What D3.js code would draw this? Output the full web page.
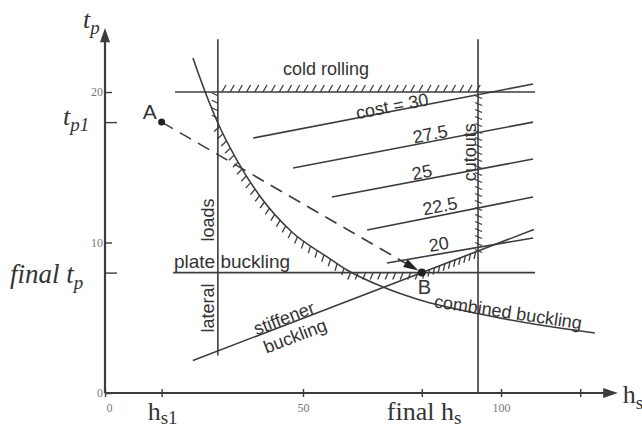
<!DOCTYPE html>
<html><head><meta charset="utf-8">
<script src="https://cdn.jsdelivr.net/npm/d3@7"></script>
<style>body{margin:0;background:#fff}svg{display:block}</style>
</head><body>
<script>
// ---------------- data ----------------
const xTickValues = [0, 50, 100];
const xTickLabels = ["0", "50", "100"];
const xExtraTicks = [14.3, 80, 120];          // h_s1, final h_s, unlabeled
const yTickValues = [0, 10, 20];
const yTickLabels = ["0", "10", "20"];
const yExtraTicks = [18, 8];                  // t_p1, final t_p

const coldRollingTp = 20;
const coldRollingHs = [17.7, 108.6];
const plateBucklingTp = 8;
const plateBucklingHs = [17.2, 108.6];
const lateralLoadsHs = 28.5;
const lateralLoadsTp = [2.5, 23.5];
const cutoutsHs = 94.2;
const cutoutsTp = [0, 23.5];
const stiffenerHs = [22.2, 108.3];
const stiffenerTp = [2.16, 10.86];

const combinedHs = [22.2, 25.3, 28.5, 33.3, 39.1, 47.2, 56.1, 61.1, 70.2, 79.5, 94.7, 109.8, 123.7];
const combinedTp = [22.26, 20.0, 17.94, 15.48, 13.09, 10.70, 9.04, 8.17, 7.04, 6.18, 5.25, 4.52, 3.99];

const costLabels  = ["cost = 30", "27.5", "25", "22.5", "20"];
const costStartHs = [37.4, 47.5, 57.3, 66.2, 71.2];
const costStartTp = [16.94, 14.95, 13.02, 10.83, 8.64];
const costEndHs   = [108.1, 108.1, 108.1, 108.1, 108.1];
const costEndTp   = [20.53, 18.0, 15.55, 13.02, 10.3];

const pointA = [14.3, 18];
const pointB = [80, 8];

// ---------------- setup ----------------
const W = 642, H = 427;
const ink = "#3c3c3c";
const svg = d3.select("body").append("svg").attr("width", W).attr("height", H);
const x = d3.scaleLinear().domain([0, 100]).range([105, 501]);
const y = d3.scaleLinear().domain([0, 20]).range([393, 92]);
const line = d3.line().x(d => x(d[0])).y(d => y(d[1]));
const g = svg.append("g");

function drawPath(pts, w) {
  return g.append("path").attr("d", line(pts)).attr("fill", "none")
    .attr("stroke", ink).attr("stroke-width", w || 1.6).node();
}
function lenAt(node, key, target) {
  const L = node.getTotalLength();
  const v0 = node.getPointAtLength(0)[key], v1 = node.getPointAtLength(L)[key];
  const inc = v1 > v0;
  let lo = 0, hi = L;
  for (let i = 0; i < 40; i++) {
    const m = (lo + hi) / 2, v = node.getPointAtLength(m)[key];
    if ((v < target) === inc) lo = m; else hi = m;
  }
  return (lo + hi) / 2;
}
function hatch(node, l0, l1, spacing, side, len, skew, offset) {
  offset = offset || 0;
  const L = node.getTotalLength();
  const segs = [];
  for (let l = l0 + spacing / 2; l <= l1; l += spacing) {
    const a = node.getPointAtLength(Math.max(0, l - 0.6)), b = node.getPointAtLength(Math.min(L, l + 0.6));
    const p = node.getPointAtLength(l);
    let tx = b.x - a.x, ty = b.y - a.y; const n = Math.hypot(tx, ty); tx /= n; ty /= n;
    const nx = -ty * side, ny = tx * side;
    const sx = p.x + nx * offset, sy = p.y + ny * offset;
    segs.push([sx, sy, sx + nx * len + tx * skew, sy + ny * len + ty * skew]);
  }
  g.append("g").selectAll("line").data(segs).join("line")
    .attr("x1", d => d[0]).attr("y1", d => d[1]).attr("x2", d => d[2]).attr("y2", d => d[3])
    .attr("stroke", ink).attr("stroke-width", 1.3);
}

// ---------------- axes ----------------
g.append("line").attr("x1", x(0)).attr("x2", x(127)).attr("y1", y(0)).attr("y2", y(0))
  .attr("stroke", ink).attr("stroke-width", 2.2);
g.append("path").attr("d", `M${x(129.5)},${y(0)}L${x(125.8)},${y(0)-5}L${x(125.8)},${y(0)+5}Z`).attr("fill", ink);
g.append("line").attr("x1", x(0)).attr("x2", x(0)).attr("y1", y(0)).attr("y2", y(23.5))
  .attr("stroke", ink).attr("stroke-width", 2.2);
g.append("path").attr("d", `M${x(0)},${y(24.25)}L${x(0)-5},${y(23.3)}L${x(0)+5},${y(23.3)}Z`).attr("fill", ink);

const xAxis = d3.axisBottom(x).tickValues(xTickValues.concat(xExtraTicks)).tickSize(4).tickPadding(6)
  .tickFormat(d => { const i = xTickValues.indexOf(d); return i >= 0 ? xTickLabels[i] : ""; });
const xa = svg.append("g").attr("transform", `translate(0,${y(0)})`).call(xAxis);
xa.select(".domain").remove();
xa.selectAll(".tick line").attr("y1", -4).attr("stroke", ink).attr("stroke-width", 1.4);
xa.selectAll(".tick text").attr("font-family", "Liberation Serif").attr("font-size", 12).attr("fill", "#777")
  .attr("dx", d => d === 0 ? 4 : 0);

const yAxis = d3.axisLeft(y).tickValues(yTickValues.concat(yExtraTicks)).tickSizeInner(-7).tickSizeOuter(0).tickPadding(2)
  .tickFormat(d => { const i = yTickValues.indexOf(d); return i >= 0 ? yTickLabels[i] : ""; });
const ya = svg.append("g").attr("transform", `translate(${x(0)},0)`).call(yAxis);
ya.select(".domain").remove();
ya.selectAll(".tick line").attr("x2", d => yExtraTicks.includes(d) ? 12 : 7).attr("stroke", ink).attr("stroke-width", 1.4);
ya.selectAll(".tick text").attr("font-family", "Liberation Serif").attr("font-size", 12).attr("fill", "#777");

// ---------------- constraint lines ----------------
const coldNode = drawPath([[coldRollingHs[0], coldRollingTp], [coldRollingHs[1], coldRollingTp]]);
const plateNode = drawPath([[plateBucklingHs[0], plateBucklingTp], [plateBucklingHs[1], plateBucklingTp]]);
const latNode = drawPath([[lateralLoadsHs, lateralLoadsTp[1]], [lateralLoadsHs, lateralLoadsTp[0]]]);
const cutNode = drawPath([[cutoutsHs, cutoutsTp[1]], [cutoutsHs, cutoutsTp[0]]]);
const stiffNode = drawPath([[stiffenerHs[0], stiffenerTp[0]], [stiffenerHs[1], stiffenerTp[1]]]);
const combPts = combinedHs.map((h, i) => [h, combinedTp[i]]);
const combNode = g.append("path").attr("d", d3.line().x(d => x(d[0])).y(d => y(d[1])).curve(d3.curveMonotoneX)(combPts))
  .attr("fill", "none").attr("stroke", ink).attr("stroke-width", 1.6).node();

costLabels.forEach((c, i) => drawPath([[costStartHs[i], costStartTp[i]], [costEndHs[i], costEndTp[i]]]));

// ---------------- hatching ----------------
hatch(coldNode, lenAt(coldNode, "x", x(lateralLoadsHs)), lenAt(coldNode, "x", x(cutoutsHs) + 5), 8.2, -1, 7, 4);
hatch(latNode, y(coldRollingTp) - y(lateralLoadsTp[1]), y(combinedTp[2]) - y(lateralLoadsTp[1]), 7.5, 1, 6, -3);
hatch(combNode, lenAt(combNode, "x", x(lateralLoadsHs)), lenAt(combNode, "x", x(61.1)), 8, 1, 7, 2);
hatch(plateNode, lenAt(plateNode, "x", x(61.1)), lenAt(plateNode, "x", x(pointB[0])), 7.5, 1, 7, -3);
hatch(stiffNode, lenAt(stiffNode, "x", x(pointB[0])), lenAt(stiffNode, "x", x(cutoutsHs)), 5.5, 1, 6, -4);
hatch(cutNode, y(coldRollingTp) - y(cutoutsTp[1]), y(9.4) - y(cutoutsTp[1]), 7, -1, 7, 3, -3);

// ---------------- path A -> B ----------------
const ax = x(pointA[0]), ay = y(pointA[1]), bx = x(pointB[0]), by = y(pointB[1]);
const dl = Math.hypot(bx - ax, by - ay), ux = (bx - ax) / dl, uy = (by - ay) / dl;
const tipX = bx - ux * 4, tipY = by - uy * 4;
g.append("line").attr("x1", ax).attr("y1", ay).attr("x2", tipX - ux * 12).attr("y2", tipY - uy * 12)
  .attr("stroke", ink).attr("stroke-width", 1.6).attr("stroke-dasharray", "13,8");
g.append("path").attr("d", `M${tipX},${tipY}L${tipX - ux*15 - uy*4.5},${tipY - uy*15 + ux*4.5}L${tipX - ux*15 + uy*4.5},${tipY - uy*15 - ux*4.5}Z`)
  .attr("fill", "#222");
g.append("circle").attr("cx", ax).attr("cy", ay).attr("r", 3.5).attr("fill", "#222");
g.append("circle").attr("cx", bx).attr("cy", by).attr("r", 4).attr("fill", "#222");

// ---------------- labels ----------------
const sans = "Liberation Sans, Arial, sans-serif";
function label(txt, hx, ty, opts) {
  opts = opts || {};
  const t = g.append("text").text(txt)
    .attr("transform", `translate(${x(hx)},${y(ty)}) rotate(${opts.rot || 0})`)
    .attr("text-anchor", opts.anchor || "middle")
    .attr("font-family", sans).attr("font-size", opts.size || 18).attr("fill", "#333");
  if (opts.dy) t.attr("dy", opts.dy);
  return t;
}
label("cold rolling", 55.8, 21.13);
label("plate buckling", 17.4, 8.3, {anchor: "start", size: 19});
const costCenterHs = [72.5, 82.1, 80.05, 84.6, 84.3];
const costCenterTp = [19.07, 17.21, 14.68, 12.43, 9.9];
costLabels.forEach((c, i) => label(c, costCenterHs[i], costCenterTp[i], {rot: i === 4 ? -9.5 : -11, dy: "0.35em"}));
label("cutouts", 92.2, 16.0, {rot: -90, dy: "0.35em"});
label("lateral", 26.0, 5.65, {rot: -90, dy: "0.35em"});
label("loads", 26.0, 11.5, {rot: -90, dy: "0.35em"});
label("stiffener", 45.2, 4.98, {rot: -21, dy: "0.35em"});
label("buckling", 48.0, 3.79, {rot: -21, dy: "0.35em"});
label("combined buckling", 101.8, 5.38, {rot: 8.5, dy: "0.35em"});
label("A", 13.1, 18.2, {anchor: "end", size: 21});
label("B", 79.0, 6.58, {anchor: "start", size: 20});

// axis titles (serif)
const serif = "Liberation Serif, Times New Roman, serif";
function serifLabel(px, py, main, sub, italic, subDy, size) {
  const t = svg.append("text").attr("x", px).attr("y", py).attr("font-family", serif)
    .attr("font-size", size || 26).attr("fill", "#333")
    .attr("font-style", italic ? "italic" : "normal");
  t.append("tspan").text(main);
  t.append("tspan").text(sub).attr("font-size", 19).attr("dy", subDy == null ? 6 : subDy);
  return t;
}
serifLabel(x(0) - 22, y(24.25), "t", "p", true);
serifLabel(x(0) - 42, y(pointA[1]) + 3, "t", "p1", true);
serifLabel(x(0) - 95, y(pointB[1]) + 10, "final t", "p", true, 6, 27);
serifLabel(x(pointA[0]) - 14, y(0) + 27, "h", "s1", false, 4);
serifLabel(x(pointB[0]) - 35, y(0) + 27, "final h", "s", false, 4);
serifLabel(x(129.5) + 5, y(0) + 10, "h", "s", false);
</script>
</body></html>
